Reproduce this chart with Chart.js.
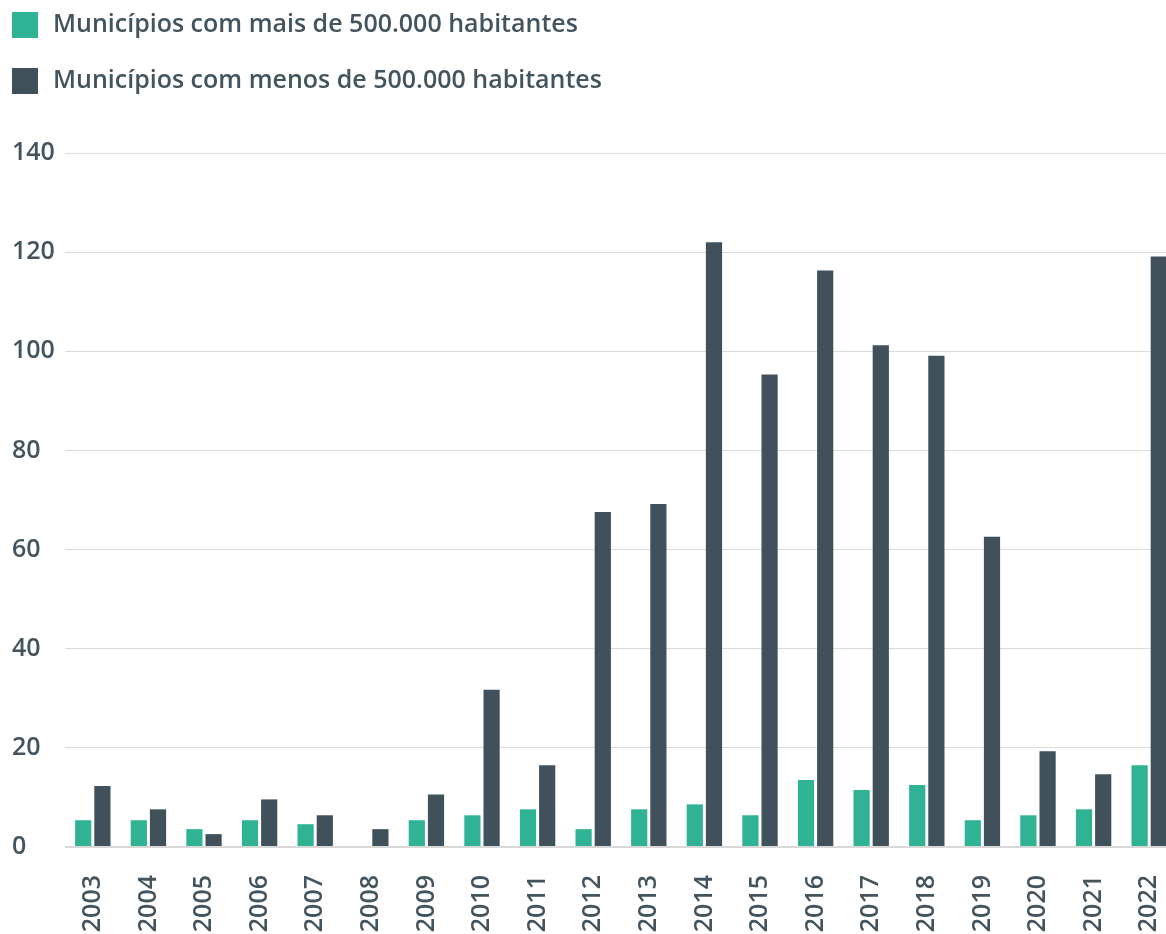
<!DOCTYPE html>
<html>
<head>
<meta charset="utf-8">
<script src="https://cdn.jsdelivr.net/npm/chart.js@4.4.1/dist/chart.umd.min.js"></script>
<style>
  html, body { margin: 0; padding: 0; background: #ffffff; overflow: hidden; width: 1166px; height: 934px; }
  #wrap { width: 1177px; height: 934px; position: relative; }
</style>
</head>
<body>
<div id="wrap"><canvas id="chart"></canvas></div>
<script>
// ---- data ----
const years = ["2003","2004","2005","2006","2007","2008","2009","2010","2011","2012",
               "2013","2014","2015","2016","2017","2018","2019","2020","2021","2022"];
const seriesNames = ["Municípios com mais de 500.000 habitantes",
                     "Municípios com menos de 500.000 habitantes"];
const above500k = [5.4, 5.4, 3.6, 5.4, 4.6, 0, 5.4, 6.4, 7.6, 3.6,
                   7.6, 8.6, 6.4, 13.5, 11.5, 12.5, 5.4, 6.4, 7.6, 16.5];
const below500k = [12.3, 7.6, 2.6, 9.6, 6.4, 3.6, 10.6, 31.7, 16.5, 67.6,
                   69.2, 122.0, 95.3, 116.3, 101.2, 99.1, 62.6, 19.3, 14.7, 119.1];
const yMin = 0, yMax = 140, yStep = 20;

// ---- styles ----
const GREEN = "#30b394";
const DARK = "#41515b";
const TEXT = "#44545e";
const GRID = "#dadada";
const FONT = "'Open Sans', 'Noto Sans', sans-serif";

const legendPlugin = {
  id: "stackedLegend",
  afterDraw(chart) {
    const ctx = chart.ctx;
    ctx.save();
    ctx.font = "600 25px " + FONT;
    ctx.textAlign = "left";
    ctx.textBaseline = "middle";
    chart.data.datasets.forEach((ds, i) => {
      const top = 12 + i * 56;
      ctx.fillStyle = ds.backgroundColor;
      ctx.fillRect(12, top, 26, 26);
      ctx.fillStyle = TEXT;
      ctx.fillText(ds.label, 53, top + 13);
    });
    ctx.restore();
  }
};

new Chart(document.getElementById("chart"), {
  type: "bar",
  data: {
    labels: years,
    datasets: [
      { label: seriesNames[0], data: above500k, backgroundColor: GREEN,
        categoryPercentage: 0.69, barPercentage: 0.845 },
      { label: seriesNames[1], data: below500k, backgroundColor: DARK,
        categoryPercentage: 0.69, barPercentage: 0.845 }
    ]
  },
  options: {
    responsive: true,
    maintainAspectRatio: false,
    animation: false,
    layout: { padding: { top: 153, left: 12, right: 0, bottom: 0 } },
    plugins: {
      legend: { display: false },
      tooltip: { enabled: false }
    },
    scales: {
      x: {
        offset: true,
        grid: { display: false, drawTicks: false },
        border: { display: false },
        ticks: {
          autoSkip: false, minRotation: 90, maxRotation: 90, padding: 28,
          color: TEXT, font: { family: FONT, size: 25, weight: "600" }
        },
        afterFit(scale) {
          scale.height = 87;
          scale.paddingLeft = 0;
          scale.paddingRight = 0;
        }
      },
      y: {
        min: yMin, max: yMax,
        border: { display: false },
        grid: {
          drawTicks: false,
          color: (c) => (c.tick && c.tick.value === 0 ? "#d8d8d8" : GRID),
          lineWidth: (c) => (c.tick && c.tick.value === 0 ? 2 : 1)
        },
        ticks: {
          stepSize: yStep, crossAlign: "far", padding: 0,
          color: TEXT, font: { family: FONT, size: 25, weight: "600" }
        },
        afterFit(scale) {
          scale.width = 53;
          scale.paddingTop = 0;
          scale.paddingBottom = 0;
        }
      }
    }
  },
  plugins: [legendPlugin]
});
</script>
</body>
</html>
